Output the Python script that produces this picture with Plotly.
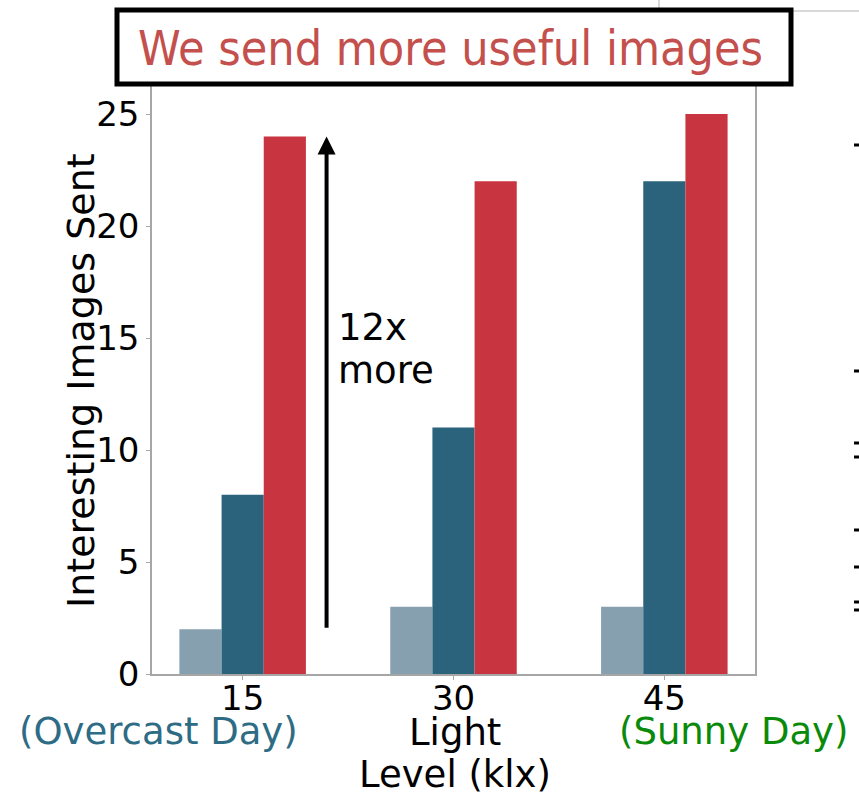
import plotly.graph_objects as go

# Light level groups (klx) and the three image-selection policies
light_levels = ["15", "30", "45"]
baseline_sent = [2, 3, 3]
partial_sent = [8, 11, 22]
ours_sent = [24, 22, 25]

y_ticks = [0, 5, 10, 15, 20, 25]
arrow_from, arrow_to = 2, 24

bar_colors = ["#86A0AF", "#2B637C", "#C93441"]

W, H = 859, 796
L, R, T, B = 152, 104, 84, 122
PW, PH = W - L - R, H - T - B


def px(x):
    return (x - L) / PW


def py(y):
    return (H - B - y) / PH


fig = go.Figure()
for name, vals, col in zip(["Baseline", "Partial", "Ours"],
                           [baseline_sent, partial_sent, ours_sent], bar_colors):
    fig.add_trace(go.Bar(x=light_levels, y=vals, name=name, marker_color=col,
                         marker_line_width=0, showlegend=False))

frame = dict(showline=True, mirror=True, linecolor="#A6A6A6", linewidth=1.5,
             ticks="outside", ticklen=4, tickcolor="#A6A6A6", showgrid=False,
             zeroline=False, tickfont=dict(family="DejaVu Sans", size=34, color="black"))

fig.update_layout(
    width=W, height=H,
    margin=dict(l=L, r=R, t=T, b=B),
    paper_bgcolor="white", plot_bgcolor="white",
    barmode="group", bargap=0.4, bargroupgap=0,
    xaxis=dict(range=[-0.43, 2.43], ticklabelstandoff=-11, **frame),
    yaxis=dict(range=[0, 26.34], tickvals=y_ticks, **frame),
)


def label(x, y, text, font, **kw):
    fig.add_annotation(x=px(x), y=py(y), xref="paper", yref="paper", text=text,
                       showarrow=False, xanchor="center", yanchor="middle",
                       font=font, **kw)


# Arrow showing the gain between baseline and ours
fig.add_annotation(x=0.398, y=arrow_to, ax=0.398, ay=arrow_from,
                   xref="x", yref="y", axref="x", ayref="y", text="",
                   showarrow=True, arrowhead=2, arrowsize=0.9, arrowwidth=4,
                   arrowcolor="black", standoff=0, startstandoff=0)
ratio = arrow_to // arrow_from
txt = dict(family="DejaVu Sans", size=37, color="black")
fig.add_annotation(x=0.445, y=15.49, xref="x", yref="y", text=f"{ratio}x",
                   showarrow=False, xanchor="left", yanchor="middle", font=txt)
fig.add_annotation(x=0.445, y=13.53, xref="x", yref="y", text="more",
                   showarrow=False, xanchor="left", yanchor="middle", font=txt)

# Axis titles and day labels
label(81, 381, "Interesting Images Sent", dict(txt, size=38), textangle=-90)
label(158, 731, "(Overcast Day)", dict(family="DejaVu Sans", size=37, color="#2E6B85"))
label(733, 731, "(Sunny Day)", dict(family="DejaVu Sans", size=37, color="#0A8A0A"))
label(455, 732, "Light", txt)
label(455, 774, "Level (klx)", txt)

# Boxed headline
fig.add_shape(type="line", xref="paper", yref="paper",
              x0=px(659), x1=px(859), y0=py(11), y1=py(11),
              line=dict(color="#D9D9D9", width=2))
fig.add_shape(type="line", xref="paper", yref="paper",
              x0=px(659), x1=px(659), y0=py(0), y1=py(11),
              line=dict(color="#D9D9D9", width=2))
fig.add_shape(type="rect", xref="paper", yref="paper",
              x0=px(117), x1=px(791), y0=py(84), y1=py(10),
              line=dict(color="black", width=5), fillcolor="white", layer="above")
label(450, 48, "We send more useful images",
      dict(family="DejaVu Sans Condensed, Liberation Sans Narrow, DejaVu Sans",
           size=48, color="#C4504E"))

# Tick marks of the neighbouring panel at the right edge
for yy in [145, 371, 443, 457, 530, 567, 602, 610]:
    fig.add_shape(type="line", xref="paper", yref="paper",
                  x0=px(854), x1=px(860), y0=py(yy), y1=py(yy),
                  line=dict(color="black", width=3))

fig.write_html("out.html")
